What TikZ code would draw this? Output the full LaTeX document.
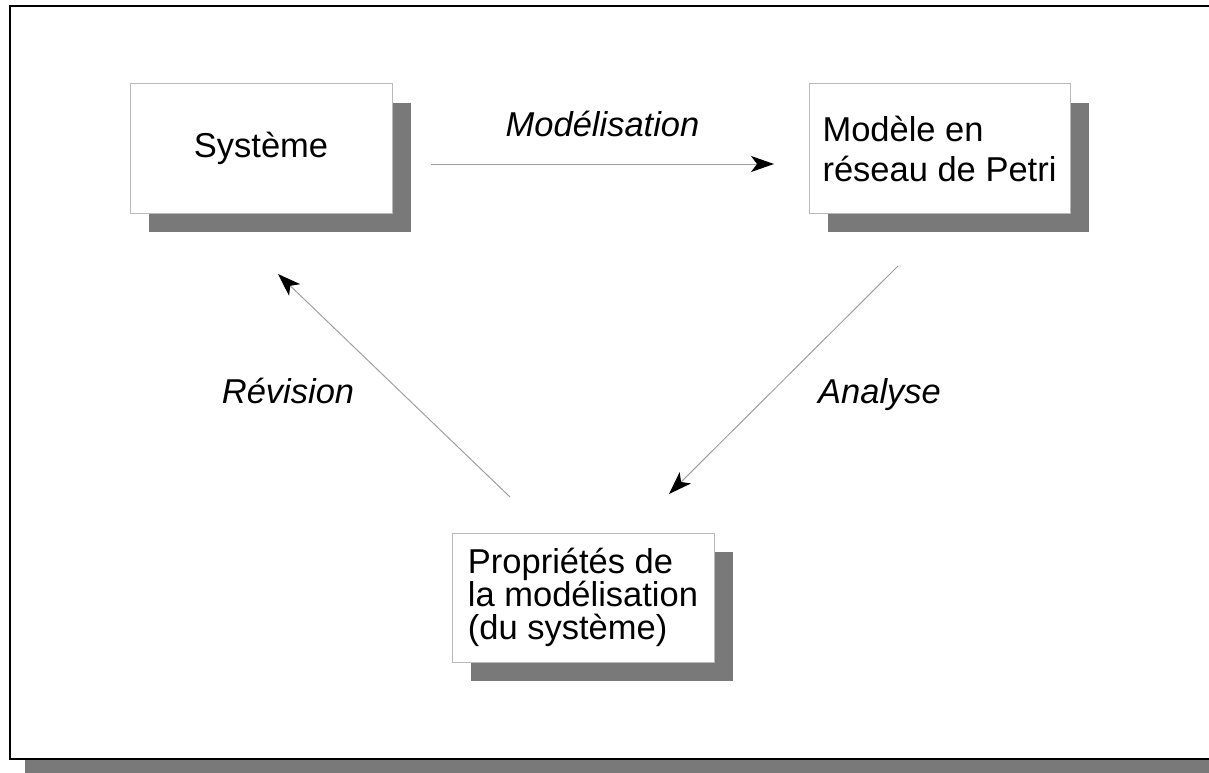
\documentclass[tikz,border=0pt]{standalone}
\usepackage{fontspec}
\setmainfont{Liberation Sans}
\usetikzlibrary{arrows.meta,shadows}
\begin{document}
\begin{tikzpicture}[x=1pt,y=-1pt,
  box/.style={draw=gray!55,line width=1pt,fill=white,
    minimum width=262pt,minimum height=129pt,inner sep=0pt,align=left,
    font=\fontsize{34.5}{40}\selectfont,
    drop shadow={shadow xshift=19pt,shadow yshift=-19pt,fill=gray!95!black,opacity=1}},
  link/.style={draw=gray!75,line width=1pt,
    -{Stealth[length=23pt,width=16pt,inset=6pt,black]}},
  tag/.style={font=\fontsize{34.5}{40}\selectfont\itshape,anchor=base,inner sep=0pt}]
\useasboundingbox (0,0) rectangle (1209,773);
% page frame with its shadow
\fill[gray!95!black] (25,760) rectangle (1209,773);
\draw[line width=1.6pt] (1212,6) -- (10,6) -- (10,759) -- (1212,759);
% boxes
\node[box] (sys) at (261,148.5) {Système};
\node[box,minimum width=261pt] (mod) at (939.5,148.5) {Modèle en\\réseau de Petri};
\node[box,font=\fontsize{34.5}{33}\selectfont] (prop) at (583,597.5)
  {Propriétés de\\la modélisation\\(du système)};
% connector ends
\coordinate (m1) at (431,164);
\coordinate (m2) at (774,164);
\coordinate (a1) at (898,266);
\coordinate (a2) at (669,494);
\coordinate (r1) at (510,497);
\coordinate (r2) at (278,274);
\draw[link] (m1) -- (m2);
\draw[link] (a1) -- (a2);
\draw[link] (r1) -- (r2);
% labels
\node[tag] (lm) at (602.5,136) {Modélisation};
\node[tag] (la) at (879.5,403) {Analyse};
\node[tag] (lr) at (288,403) {Révision};
\end{tikzpicture}
\end{document}
